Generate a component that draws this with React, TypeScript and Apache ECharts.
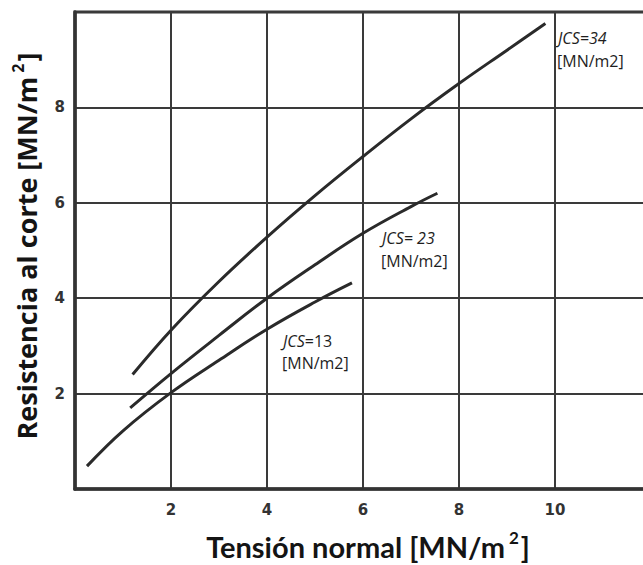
import React, { useEffect, useRef } from "react";
import * as echarts from "echarts";

// Normal stress [MN/m²] vs. shear strength [MN/m²] for three JCS values
const jcs34X = [1.2, 2, 3, 4, 5, 6, 7, 8, 9, 9.8];
const jcs34Y = [2.4, 3.33, 4.35, 5.28, 6.15, 6.97, 7.76, 8.5, 9.2, 9.76];

const jcs23X = [1.15, 2, 3, 4, 5, 6, 7, 7.55];
const jcs23Y = [1.7, 2.42, 3.22, 4.0, 4.7, 5.36, 5.92, 6.2];

const jcs13X = [0.25, 1, 2, 3, 4, 5, 5.77];
const jcs13Y = [0.48, 1.22, 2.02, 2.7, 3.35, 3.92, 4.32];

const xTickLabels = [2, 4, 6, 8, 10];
const yTickLabels = [2, 4, 6, 8];

const pairs = (xs: number[], ys: number[]) => xs.map((x, i) => [x, ys[i]]);

const curveStyle = { color: "#2a2a2a", width: 3 };
const labelFont = "'Open Sans', 'Noto Sans', sans-serif";
const xTitleFont = "Lato, 'Open Sans', sans-serif";
const yTitleFont = "'Open Sans', Lato, sans-serif";
const tickFont = "'DejaVu Sans', sans-serif";

export default function App() {
  const ref = useRef<HTMLDivElement>(null);

  useEffect(() => {
    if (!ref.current) return;
    const chart = echarts.init(ref.current, undefined, { renderer: "svg" });

    const curve = (name: string, xs: number[], ys: number[]) => ({
      name,
      type: "line",
      data: pairs(xs, ys),
      smooth: 0.4,
      showSymbol: false,
      lineStyle: curveStyle,
      silent: true,
    });

    const note = (x: number, y: number, rich: string) => ({
      type: "text",
      x,
      y,
      style: {
        text: rich,
        textVerticalAlign: "middle",
        fill: "#1e1e1e",
        font: `16px ${labelFont}`,
        rich: {
          i: { fontStyle: "italic", fontSize: 16, fontFamily: labelFont, fill: "#1e1e1e" },
          n: { fontSize: 16, fontFamily: labelFont, fill: "#1e1e1e" },
        },
      },
    });

    const titleRich = (size: number, family: string) => ({
      t: { fontSize: size, fontWeight: "bold", fontFamily: family, fill: "#141414", lineHeight: size + 6 },
      s: {
        fontSize: Math.round(size * 0.6),
        fontWeight: "bold",
        fontFamily: family,
        fill: "#141414",
        verticalAlign: "top",
        lineHeight: Math.round(size * 0.6) + 4,
        padding: [0, 2, 0, 4],
      },
    });

    const tickLabel = (margin: number, shown: number[]) => ({
      margin,
      color: "#333",
      fontSize: 15,
      fontWeight: "bold",
      fontFamily: tickFont,
      formatter: (v: number) => (shown.includes(v) ? String(v) : ""),
    });

    chart.setOption({
      animation: false,
      grid: {
        left: 75,
        top: 12,
        width: 576,
        height: 477,
        outerBoundsMode: "none",
        containLabel: false,
        show: true,
        borderColor: "#333",
        borderWidth: 3,
        backgroundColor: "transparent",
      },
      xAxis: {
        type: "value",
        min: 0,
        max: 12,
        interval: 2,
        axisLine: { show: true, onZero: false, lineStyle: { color: "#333", width: 3.5 } },
        axisTick: { show: false },
        axisLabel: tickLabel(13, xTickLabels),
        splitLine: { show: true, lineStyle: { color: "#3a3a3a", width: 2 } },
      },
      yAxis: {
        type: "value",
        min: 0,
        max: 10,
        interval: 2,
        axisLine: { show: true, onZero: false, lineStyle: { color: "#333", width: 3.5 } },
        axisTick: { show: false },
        axisLabel: tickLabel(10, yTickLabels),
        splitLine: { show: true, lineStyle: { color: "#3a3a3a", width: 2 } },
      },
      series: [
        curve("JCS=34", jcs34X, jcs34Y),
        curve("JCS=23", jcs23X, jcs23Y),
        curve("JCS=13", jcs13X, jcs13Y),
      ],
      graphic: [
        note(558, 38, "{i|JCS=34}"),
        note(557, 61, "{n|[MN/m2]}"),
        note(382, 238, "{i|JCS= 23}"),
        note(381, 261, "{n|[MN/m2]}"),
        note(283, 341, "{i|JCS}{n|=13}"),
        note(282, 363, "{n|[MN/m2]}"),
        {
          type: "text",
          x: 368,
          y: 546,
          style: {
            text: "{t|Tensión normal [MN/m}{s|2}{t|]}",
            textAlign: "center",
            textVerticalAlign: "middle",
            rich: titleRich(29, xTitleFont),
          },
        },
        {
          type: "text",
          x: 26,
          y: 246,
          rotation: Math.PI / 2,
          style: {
            text: "{t|Resistencia al corte [MN/m}{s|2}{t|]}",
            textAlign: "center",
            textVerticalAlign: "middle",
            rich: titleRich(27, yTitleFont),
          },
        },
      ],
    });

    return () => chart.dispose();
  }, []);

  return (
    <div
      ref={ref}
      style={{ position: "absolute", left: 0, top: 0, width: 643, height: 565, background: "#fff" }}
    />
  );
}
